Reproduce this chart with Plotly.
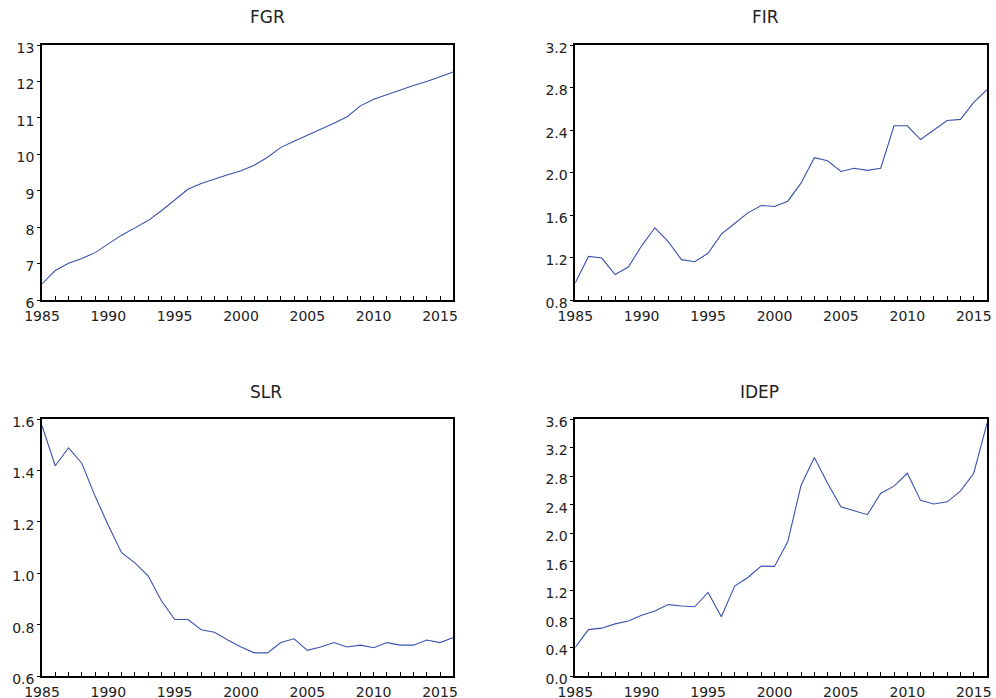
import plotly.graph_objects as go

years = list(range(1985, 2017))

fgr = [6.44, 6.81, 7.01, 7.14, 7.30, 7.54, 7.78, 7.98, 8.18, 8.45, 8.75, 9.04, 9.20, 9.33,
       9.44, 9.55, 9.70, 9.92, 10.19, 10.36, 10.52, 10.69, 10.85, 11.03, 11.33, 11.51,
       11.64, 11.76, 11.89, 12.00, 12.13, 12.26]
fir = [0.96, 1.21, 1.195, 1.04, 1.11, 1.31, 1.48, 1.35, 1.18, 1.16, 1.24, 1.42, 1.52, 1.62,
       1.69, 1.68, 1.73, 1.90, 2.14, 2.11, 2.01, 2.04, 2.02, 2.04, 2.44, 2.44, 2.31, 2.40,
       2.49, 2.50, 2.66, 2.78]
slr = [1.574, 1.418, 1.488, 1.428, 1.30, 1.186, 1.08, 1.04, 0.99, 0.893, 0.82, 0.82, 0.78,
       0.77, 0.74, 0.713, 0.69, 0.69, 0.73, 0.745, 0.70, 0.713, 0.73, 0.713, 0.72, 0.71,
       0.73, 0.72, 0.72, 0.74, 0.73, 0.75]
idep = [0.40, 0.65, 0.67, 0.73, 0.77, 0.85, 0.91, 1.00, 0.98, 0.97, 1.17, 0.83, 1.26, 1.38,
        1.54, 1.535, 1.88, 2.67, 3.06, 2.70, 2.37, 2.32, 2.26, 2.56, 2.66, 2.84, 2.46, 2.41,
        2.44, 2.59, 2.84, 3.54]

titles = ["FGR", "FIR", "SLR", "IDEP"]
series = [fgr, fir, slr, idep]
y_ranges = [(6, 13), (0.8, 3.2), (0.6, 1.6), (0.0, 3.6)]
y_dticks = [1, 0.4, 0.2, 0.4]
y_formats = ["d", ".1f", ".1f", ".1f"]
x_ticks = [1985, 1990, 1995, 2000, 2005, 2010, 2015]

W, H = 996, 698
ML, MR, MT, MB = 41.5, 9, 45, 22
PW, PH = W - ML - MR, H - MT - MB
px_x = [(41.5, 453), (575, 987), (41.5, 453), (575, 987)]
px_y = [(45, 300), (45, 300), (419, 676), (419, 676)]
title_px_y = [17, 17, 392, 392]

line_color = "#3a52ad"
tick_font = dict(family="DejaVu Sans, Liberation Sans, sans-serif", size=14, color="#222")
title_font = dict(family="DejaVu Sans, Liberation Sans, sans-serif", size=17, color="#222")

fig = go.Figure()
annotations = []
for i in range(4):
    n = "" if i == 0 else str(i + 1)
    fig.add_trace(go.Scatter(x=years, y=series[i], mode="lines",
                             line=dict(color=line_color, width=1.1),
                             xaxis="x" + n, yaxis="y" + n, showlegend=False))
    xd = [(px_x[i][0] - ML) / PW, (px_x[i][1] - ML) / PW]
    yd = [(H - MB - px_y[i][1]) / PH, (H - MB - px_y[i][0]) / PH]
    xd = [max(0, min(1, v)) for v in xd]
    yd = [max(0, min(1, v)) for v in yd]
    fig.layout["xaxis" + n] = dict(
        domain=xd, anchor="y" + n, range=[1985, 2016], automargin=False,
        tickmode="array", tickvals=x_ticks, ticklabeloverflow="allow",
        ticks="inside", ticklen=4, tickwidth=1, tickcolor="black",
        minor=dict(ticks="inside", ticklen=4, dtick=1, tick0=1985, tickcolor="black", tickwidth=1),
        showline=True, linecolor="black", linewidth=1.5, mirror=True,
        showgrid=False, zeroline=False, ticklabelstandoff=2,
        tickfont=tick_font,
    )
    fig.layout["yaxis" + n] = dict(
        domain=yd, anchor="x" + n, range=list(y_ranges[i]), automargin=False,
        dtick=y_dticks[i], tick0=y_ranges[i][0], tickformat=y_formats[i],
        ticks="outside", ticklen=3, tickwidth=1, tickcolor="black",
        showline=True, linecolor="black", linewidth=1.5, mirror=True,
        showgrid=False, zeroline=False, ticklabelshift=3, ticklabeloverflow="allow",
        tickfont=tick_font,
    )
    annotations.append(dict(
        text=titles[i], x=(xd[0] + xd[1]) / 2, xref="paper",
        y=(H - MB - title_px_y[i]) / PH, yref="paper", yanchor="middle",
        showarrow=False, font=title_font,
    ))

fig.update_layout(
    width=W, height=H, margin=dict(l=ML, r=MR, t=MT, b=MB, autoexpand=False),
    paper_bgcolor="white", plot_bgcolor="white",
    annotations=annotations,
)
fig.write_html(
    "out.html",
    config={"displayModeBar": False},
    post_script="document.body.style.margin='0';document.body.style.overflow='hidden';",
)
